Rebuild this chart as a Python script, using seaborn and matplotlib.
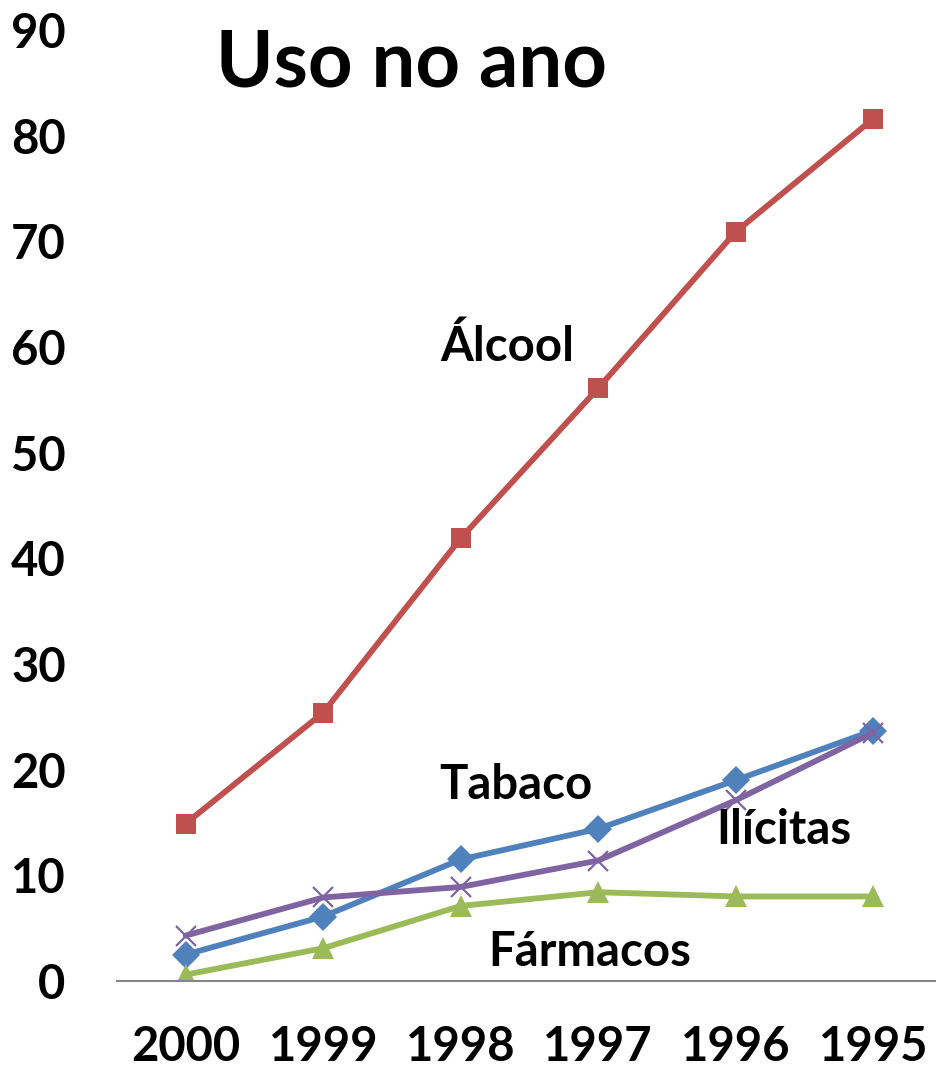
import pandas as pd
import matplotlib.pyplot as plt
import seaborn as sns

# ========================
# DATA
# ========================
years = ["2000", "1999", "1998", "1997", "1996", "1995"]
tabaco = [2.5, 6.1, 11.5, 14.4, 19.0, 23.7]
alcool = [14.9, 25.4, 41.9, 56.1, 70.9, 81.6]
farmacos = [0.6, 3.1, 7.1, 8.4, 8.0, 8.0]
ilicitas = [4.3, 7.9, 8.9, 11.4, 17.1, 23.5]

series_names = ["Tabaco", "Álcool", "Fármacos", "Ilícitas"]
series_values = [tabaco, alcool, farmacos, ilicitas]

rows = []
for name, vals in zip(series_names, series_values):
    for yr, v in zip(years, vals):
        rows.append({"ano": yr, "uso": v, "serie": name})
df = pd.DataFrame(rows)

# ========================
# STYLE
# ========================
sns.set_style("white")
plt.rcParams["font.family"] = ["Lato", "DejaVu Sans"]
plt.rcParams["font.weight"] = "bold"
plt.rcParams["text.color"] = "black"
plt.rcParams["xtick.color"] = "black"
plt.rcParams["ytick.color"] = "black"

colors = {"Tabaco": "#4F81BD", "Álcool": "#C0504D",
          "Fármacos": "#9BBB59", "Ilícitas": "#8064A2"}
markers = {"Tabaco": "D", "Álcool": "s", "Fármacos": "^", "Ilícitas": "x"}
msizes = {"Tabaco": 14, "Álcool": 15, "Fármacos": 16, "Ilícitas": 15}

# ========================
# PLOT
# ========================
fig = plt.figure(figsize=(9.36, 10.7), dpi=100)
ax = fig.add_axes([0.125, 0.0832, 0.8814, 0.8888])

for name in series_names:
    sub = df[df["serie"] == name]
    sns.lineplot(data=sub, x="ano", y="uso", ax=ax, color=colors[name],
                 linewidth=4.2, marker=markers[name], markersize=msizes[name],
                 markeredgewidth=1.6 if name == "Ilícitas" else 0,
                 markeredgecolor=colors[name], sort=False, legend=False)

ax.set_xlim(-0.5, 5.5)
ax.set_ylim(0, 90)
ax.set_yticks(range(0, 91, 10))
ax.set_xlabel("")
ax.set_ylabel("")

for s in ["top", "right", "left"]:
    ax.spines[s].set_visible(False)
ax.spines["bottom"].set_color("#868686")
ax.spines["bottom"].set_linewidth(1.5)
ax.tick_params(axis="both", length=0, labelsize=34, colors="black")
ax.tick_params(axis="y", pad=37)
ax.tick_params(axis="x", pad=32)
for lab in ax.get_xticklabels() + ax.get_yticklabels():
    lab.set_fontweight("bold")

# Title and series labels
fig.text(0.44, 0.94, "Uso no ano", fontsize=56, fontweight="bold",
         ha="center", va="center", color="black")
ax.text(2.34, 60.0, "Álcool", fontsize=34, fontweight="bold", ha="center", va="center")
ax.text(2.40, 18.5, "Tabaco", fontsize=34, fontweight="bold", ha="center", va="center")
ax.text(4.35, 14.3, "Ilícitas", fontsize=34, fontweight="bold", ha="center", va="center")
ax.text(2.94, 2.7, "Fármacos", fontsize=34, fontweight="bold", ha="center", va="center")

plt.savefig("out.png", dpi=100)
plt.close()
